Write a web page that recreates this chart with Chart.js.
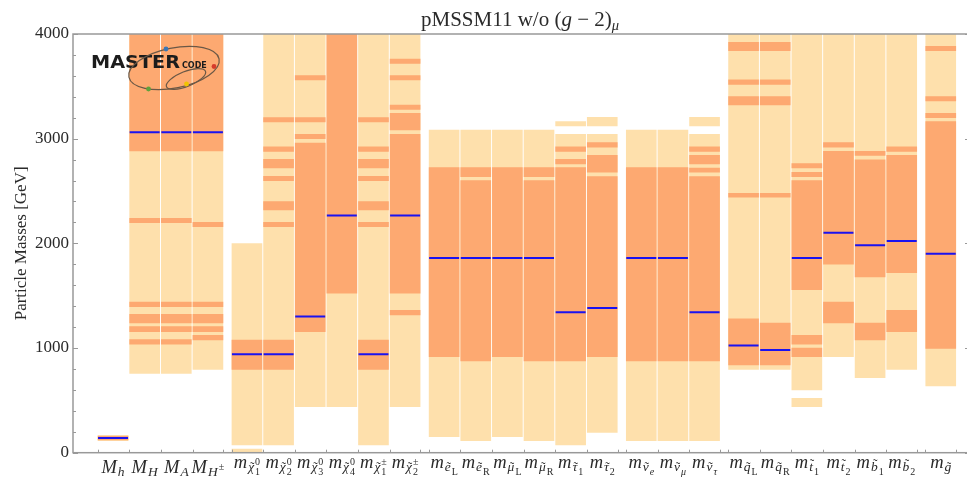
<!DOCTYPE html>
<html>
<head>
<meta charset="utf-8">
<title>pMSSM11 w/o (g-2) mass ranges</title>
<script src="https://cdn.jsdelivr.net/npm/chart.js@4.4.1/dist/chart.umd.min.js"></script>
<style>
  html, body { margin: 0; padding: 0; background: #fff; }
</style>
</head>
<body>
<canvas id="masses" width="967" height="483"></canvas>
<script>
// columns, left to right, split into particle families
const groupSizes = [4, 6, 6, 3, 6, 1];

const tickLabels = [
    { base: 'M', sub: 'h' },
    { base: 'M', sub: 'H' },
    { base: 'M', sub: 'A' },
    { base: 'M', sub: 'H', sup: '±' },
    { base: 'm', sub: 'χ', tilde: true, sup: '0', sub2: '1' },
    { base: 'm', sub: 'χ', tilde: true, sup: '0', sub2: '2' },
    { base: 'm', sub: 'χ', tilde: true, sup: '0', sub2: '3' },
    { base: 'm', sub: 'χ', tilde: true, sup: '0', sub2: '4' },
    { base: 'm', sub: 'χ', tilde: true, sup: '±', sub2: '1' },
    { base: 'm', sub: 'χ', tilde: true, sup: '±', sub2: '2' },
    { base: 'm', sub: 'e', tilde: true, sub2: 'L' },
    { base: 'm', sub: 'e', tilde: true, sub2: 'R' },
    { base: 'm', sub: 'μ', tilde: true, sub2: 'L' },
    { base: 'm', sub: 'μ', tilde: true, sub2: 'R' },
    { base: 'm', sub: 'τ', tilde: true, sub2: '1' },
    { base: 'm', sub: 'τ', tilde: true, sub2: '2' },
    { base: 'm', sub: 'ν', tilde: true, sub2: 'e', sub2Italic: true },
    { base: 'm', sub: 'ν', tilde: true, sub2: 'μ', sub2Italic: true },
    { base: 'm', sub: 'ν', tilde: true, sub2: 'τ', sub2Italic: true },
    { base: 'm', sub: 'q', tilde: true, sub2: 'L' },
    { base: 'm', sub: 'q', tilde: true, sub2: 'R' },
    { base: 'm', sub: 't', tilde: true, sub2: '1', tall: true },
    { base: 'm', sub: 't', tilde: true, sub2: '2', tall: true },
    { base: 'm', sub: 'b', tilde: true, sub2: '1', tall: true },
    { base: 'm', sub: 'b', tilde: true, sub2: '2', tall: true },
    { base: 'm', sub: 'g', tilde: true }
];

// best-fit masses [GeV]
const bestFit = [140, 3061, 3061, 3061, 940, 940, 1300, 2265, 940, 2265,
    1860, 1860, 1860, 1860, 1341, 1382, 1860, 1860, 1341,
    1023, 981, 1860, 2102, 1981, 2023, 1901];

// 68% CL mass ranges per column, [low, high] in GeV
const range68 = [
    [[122, 158]],
    [[2882, 4000], [2198, 2239], [1395, 1440], [1239, 1322], [1156, 1204], [1038, 1080]],
    [[2882, 4000], [2198, 2239], [1395, 1440], [1239, 1322], [1156, 1204], [1038, 1080]],
    [[2882, 4000], [2160, 2201], [1395, 1440], [1239, 1322], [1156, 1204], [1077, 1121]],
    [[796, 1077]],
    [[3159, 3201], [2879, 2921], [2720, 2803], [2599, 2640], [2319, 2398], [2160, 2201], [796, 1077]],
    [[3561, 3602], [3159, 3201], [3000, 3042], [1156, 2959]],
    [[1523, 4000]],
    [[3159, 3201], [2879, 2921], [2720, 2803], [2599, 2640], [2319, 2398], [2160, 2201], [796, 1077]],
    [[3720, 3761], [3561, 3602], [3280, 3322], [3083, 3242], [1523, 3042], [1316, 1360]],
    [[917, 2723]],
    [[2637, 2723], [876, 2599]],
    [[917, 2723]],
    [[2637, 2723], [876, 2599]],
    [[2879, 2921], [2758, 2803], [876, 2723]],
    [[2920, 2962], [2679, 2841], [917, 2637]],
    [[876, 2723]],
    [[876, 2723]],
    [[2879, 2921], [2758, 2841], [2679, 2720], [876, 2637]],
    [[3841, 3920], [3519, 3561], [3322, 3401], [2440, 2478], [838, 1280]],
    [[3841, 3920], [3519, 3561], [3322, 3401], [2440, 2478], [838, 1239]],
    [[2720, 2761], [2637, 2679], [1558, 2599], [1038, 1121], [917, 1000]],
    [[2920, 2962], [1800, 2879], [1239, 1440]],
    [[2841, 2879], [1679, 2799], [1077, 1239]],
    [[2879, 2921], [1720, 2841], [1156, 1360]],
    [[3841, 3882], [3360, 3401], [3201, 3242], [997, 3163]]
];

// 95% CL mass ranges per column
const range95 = [
    [[116, 164]],
    [[758, 4000]],
    [[758, 4000]],
    [[796, 4000]],
    [[0, 35], [74, 1998]],
    [[74, 4000]],
    [[440, 4000]],
    [[440, 4000]],
    [[74, 4000]],
    [[440, 4000]],
    [[153, 3083]],
    [[115, 3083]],
    [[153, 3083]],
    [[115, 3083]],
    [[74, 3042], [3121, 3163]],
    [[194, 3042], [3121, 3204]],
    [[115, 3083]],
    [[115, 3083]],
    [[115, 3042], [3121, 3204]],
    [[796, 4000]],
    [[796, 4000]],
    [[440, 519], [599, 4000]],
    [[917, 4000]],
    [[717, 4000]],
    [[796, 4000]],
    [[637, 4000]]
];

const ORANGE = '#fda971';
const YELLOW = '#fee0ac';
const SERIF = '"Liberation Serif", "DejaVu Serif", serif';
const GROUP_GAP = 0.234;

// x position of each column: unit spacing inside a family, small gap between families
const colX = [];
let pos = 0;
groupSizes.forEach(n => {
    for (let i = 0; i < n; i++) {
        colX.push(pos);
        pos += 1;
    }
    pos += GROUP_GAP;
});

const bars68 = [];
const bars95 = [];
range68.forEach((list, i) => list.forEach(r => bars68.push({ x: colX[i], y: r })));
range95.forEach((list, i) => list.forEach(r => bars95.push({ x: colX[i], y: r })));
const bestPoints = bestFit.map((v, i) => ({ x: colX[i], y: v }));

function drawTickLabel(ctx, lab, cx) {
    const B = 18.5, S = 13.5, C = 10;
    const upper = lab.base === 'M';
    const y0 = upper ? 473 : 467.5;
    const ys = y0 + (upper ? 2.5 : 3.5);

    ctx.font = `italic ${B}px ${SERIF}`;
    const wB = ctx.measureText(lab.base).width;
    ctx.font = `italic ${S}px ${SERIF}`;
    const wS = ctx.measureText(lab.sub).width;
    let wC = 0;
    ctx.font = `${C}px ${SERIF}`;
    if (lab.sup) wC = Math.max(wC, ctx.measureText(lab.sup).width);
    if (lab.sub2) {
        ctx.font = `${lab.sub2Italic ? 'italic ' : ''}${C}px ${SERIF}`;
        wC = Math.max(wC, ctx.measureText(lab.sub2).width);
    }
    const total = wB + 1 + wS + (wC ? wC + 1 : 0);
    let xx = cx - total / 2;

    ctx.textAlign = 'left';
    ctx.font = `italic ${B}px ${SERIF}`;
    ctx.fillText(lab.base, xx, y0);
    xx += wB + 1;
    ctx.font = `italic ${S}px ${SERIF}`;
    ctx.fillText(lab.sub, xx, ys);
    if (lab.tilde) {
        ctx.font = `${S}px ${SERIF}`;
        ctx.textAlign = 'center';
        ctx.fillText('˜', xx + wS / 2 + 1, ys - (lab.tall ? 3 : 0));
        ctx.textAlign = 'left';
    }
    xx += wS + 1;
    if (lab.sup) {
        ctx.font = `${C}px ${SERIF}`;
        ctx.fillText(lab.sup, xx, ys - 6);
    }
    if (lab.sub2) {
        ctx.font = `${lab.sub2Italic ? 'italic ' : ''}${C}px ${SERIF}`;
        ctx.fillText(lab.sub2, xx, ys + 3.5);
    }
}

function drawRuns(ctx, runs, cx, y) {
    let total = 0;
    runs.forEach(r => { ctx.font = r.font; r.w = ctx.measureText(r.t).width; total += r.w; });
    let xx = cx - total / 2;
    ctx.textAlign = 'left';
    runs.forEach(r => {
        ctx.font = r.font;
        ctx.fillText(r.t, xx, y + (r.dy || 0));
        xx += r.w;
    });
}

function drawLogo(ctx) {
    ctx.save();
    ctx.fillStyle = '#1c1c1c';
    ctx.font = 'bold 18px "DejaVu Sans"';
    const w = ctx.measureText('MASTER').width;
    ctx.save();
    ctx.translate(91, 68);
    ctx.scale(89 / w, 1);
    ctx.fillText('MASTER', 0, 0);
    ctx.restore();
    ctx.font = 'small-caps bold 12px "DejaVu Sans"';
    ctx.fillText('code', 182, 68);

    ctx.strokeStyle = '#6b5846';
    ctx.lineWidth = 1.2;
    ctx.beginPath();
    ctx.ellipse(174, 68, 46, 20, -0.2, 0, Math.PI * 2);
    ctx.stroke();
    ctx.beginPath();
    ctx.ellipse(186, 79, 21, 7.5, -0.38, 0, Math.PI * 2);
    ctx.stroke();

    const dots = [[166, 49, '#3b77b6'], [214, 66.5, '#d63b2b'], [148.5, 89, '#5fa23c'], [186.5, 84, '#f0c400']];
    dots.forEach(([dx, dy, c]) => {
        ctx.fillStyle = c;
        ctx.beginPath();
        ctx.arc(dx, dy, 2.4, 0, Math.PI * 2);
        ctx.fill();
    });
    ctx.restore();
}

// frame, inward ticks, math tick labels, title and logo
const decorations = {
    id: 'decorations',
    afterDraw(chart) {
        const { ctx, chartArea: a, scales: { x, y } } = chart;
        const rightEdge = a.right + 3;
        ctx.save();

        drawLogo(ctx);

        ctx.strokeStyle = '#999';
        ctx.lineWidth = 1.5;
        ctx.strokeRect(a.left, a.top, rightEdge - a.left, a.bottom - a.top);

        ctx.lineWidth = 1;
        ctx.beginPath();
        for (let v = 0; v <= 4000; v += 200) {
            const py = Math.round(y.getPixelForValue(v)) + 0.5;
            const len = v % 1000 === 0 ? 5 : 3;
            ctx.moveTo(a.left, py); ctx.lineTo(a.left + len, py);
            ctx.moveTo(rightEdge, py); ctx.lineTo(rightEdge - len, py);
        }
        let k = 0;
        groupSizes.forEach(n => {
            for (let i = 0; i < n; i++) {
                const edges = [colX[k + i] - 0.485];
                if (i === n - 1) edges.push(colX[k + i] + 0.485);
                edges.forEach(e => {
                    const px = Math.round(x.getPixelForValue(e)) + 0.5;
                    ctx.moveTo(px, a.bottom); ctx.lineTo(px, a.bottom - 3);
                });
            }
            k += n;
        });
        ctx.stroke();

        ctx.fillStyle = '#2a2a2a';
        ctx.textBaseline = 'alphabetic';
        tickLabels.forEach((lab, i) => drawTickLabel(ctx, lab, x.getPixelForValue(colX[i])));

        drawRuns(ctx, [
            { t: 'pMSSM11 w/o (', font: `21px ${SERIF}` },
            { t: 'g', font: `italic 21px ${SERIF}` },
            { t: ' − 2)', font: `21px ${SERIF}` },
            { t: 'μ', font: `italic 14.5px ${SERIF}`, dy: 4 }
        ], (a.left + a.right) / 2, 26);

        ctx.restore();
    }
};

new Chart(document.getElementById('masses'), {
    type: 'bar',
    data: {
        datasets: [
            {
                type: 'scatter',
                data: bestPoints,
                pointStyle: 'line',
                pointRadius: 15,
                pointHoverRadius: 15,
                pointBorderColor: '#1a12f0',
                pointBorderWidth: 2,
                order: 0
            },
            {
                data: bars68,
                backgroundColor: ORANGE,
                barThickness: 30,
                grouped: false,
                order: 1
            },
            {
                data: bars95,
                backgroundColor: YELLOW,
                barThickness: 30,
                grouped: false,
                order: 2
            }
        ]
    },
    options: {
        responsive: false,
        animation: false,
        events: [],
        layout: { autoPadding: false, padding: { top: 34, right: 0, bottom: 0, left: 0 } },
        plugins: {
            legend: { display: false },
            tooltip: { enabled: false }
        },
        scales: {
            x: {
                type: 'linear',
                min: -1.266,
                max: 27.0,
                offset: false,
                grid: { display: false, drawTicks: false, offset: false },
                border: { display: false },
                ticks: { display: false },
                afterFit: s => { s.height = 30.3; }
            },
            y: {
                min: 0,
                max: 4000,
                grid: { display: false, drawTicks: false },
                border: { display: false },
                ticks: {
                    stepSize: 1000,
                    padding: 4,
                    color: '#2a2a2a',
                    font: { family: SERIF, size: 17 },
                    callback: v => String(v)
                },
                title: {
                    display: true,
                    text: 'Particle Masses [GeV]',
                    color: '#2a2a2a',
                    font: { family: SERIF, size: 17 },
                    padding: { top: 11, bottom: 0 }
                },
                afterFit: s => { s.width = 73; }
            }
        }
    },
    plugins: [decorations]
});
</script>
</body>
</html>
